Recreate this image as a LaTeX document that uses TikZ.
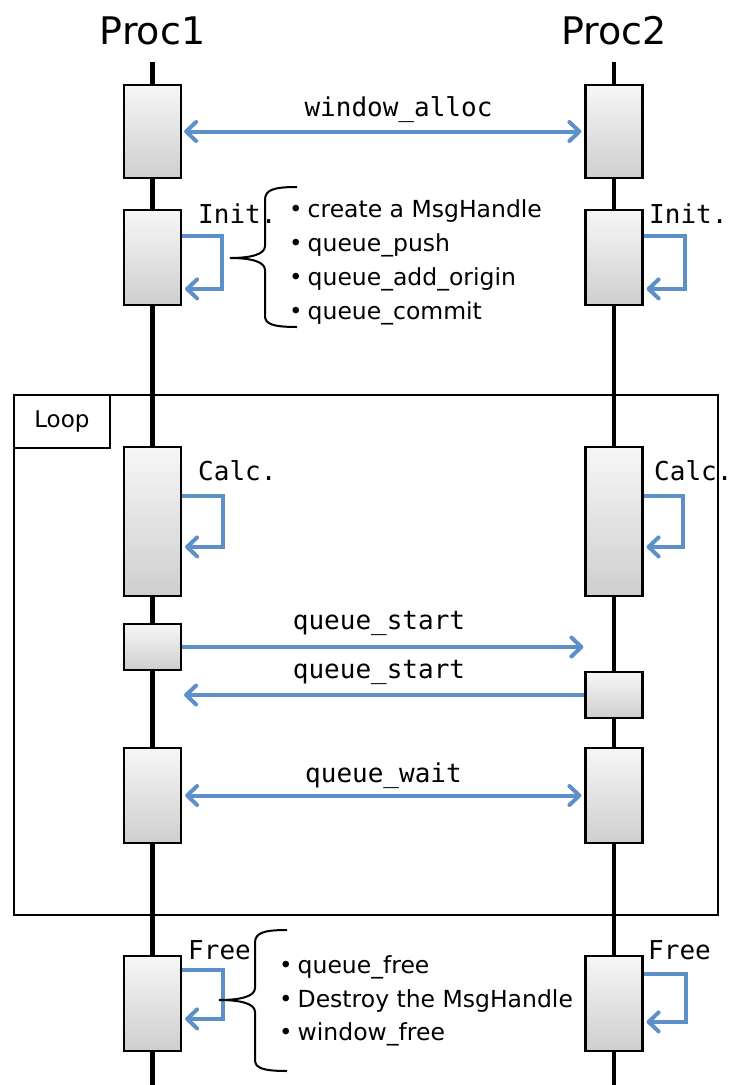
\documentclass[tikz,border=0pt]{standalone}
\usepackage{fontspec}
\setmainfont{DejaVu Sans}
\newfontfamily\monof{DejaVu Sans Mono}
\newfontfamily\cjk{Noto Sans CJK JP}
\usetikzlibrary{arrows.meta,calc}
\definecolor{msgblue}{RGB}{93,143,200}
\newcommand{\bul}{{\cjk\bfseries ・}}
\begin{document}
\begin{tikzpicture}[x=1pt,y=-1pt,
  >={Straight Barb[length=10pt,width=19pt,round]},
  lifeline/.style={line width=4.8pt},
  actbox/.style={draw, line width=2.2pt, top color=gray!7, bottom color=gray!38, minimum width=57pt, inner sep=0pt},
  msg/.style={draw=msgblue, line width=4pt, ->},
  dmsg/.style={draw=msgblue, line width=4pt, <->},
  title/.style={font=\fontsize{38}{40}\selectfont, inner sep=0pt, anchor=base},
  mlabel/.style={font=\monof\fontsize{26}{28}\selectfont, inner sep=0pt},
  item/.style={font=\fontsize{23.5}{26}\selectfont, inner sep=0pt, anchor=base west},
  brace/.style={line width=2pt},
  frame/.style={draw, line width=1.8pt, inner sep=0pt}
]
\useasboundingbox (0,0) rectangle (731,1085);
% titles
\node[title] (p1) at (152.5,44) {Proc1};
\node[title] (p2) at (614,44) {Proc2};
% loop frame
\node[frame, anchor=north west, minimum width=704pt, minimum height=520pt] (loop) at (13,394) {};
\node[frame, anchor=north west, minimum width=96pt, minimum height=53pt, font=\fontsize{23}{26}\selectfont] (looplbl) at (13,394) {Loop};
% lifelines
\coordinate (l1t) at (152.5,62); \coordinate (l1b) at (152.5,1085);
\coordinate (l2t) at (614,62);   \coordinate (l2b) at (614,1085);
\draw[lifeline] (l1t) -- (l1b);
\draw[lifeline] (l2t) -- (l2b);
% activation boxes
\node[actbox, minimum height=93pt] (a1) at (152.5,131.5) {};
\node[actbox, minimum height=95pt] (a2) at (152.5,257.5) {};
\node[actbox, minimum height=149pt] (a3) at (152.5,521.5) {};
\node[actbox, minimum height=46pt] (a4) at (152.5,647) {};
\node[actbox, minimum height=95pt] (a5) at (152.5,795.5) {};
\node[actbox, minimum height=95pt] (a6) at (152.5,1003.5) {};
\node[actbox, minimum height=93pt] (b1) at (614,131.5) {};
\node[actbox, minimum height=95pt] (b2) at (614,257.5) {};
\node[actbox, minimum height=149pt] (b3) at (614,521.5) {};
\node[actbox, minimum height=46pt] (b4) at (614,695) {};
\node[actbox, minimum height=95pt] (b5) at (614,795.5) {};
\node[actbox, minimum height=95pt] (b6) at (614,1003.5) {};
% messages
\draw[dmsg, shorten <=2pt, shorten >=3pt] (a1.east) -- (b1.west);
\node[mlabel, anchor=base] (m1) at (398.5,116) {window\_alloc};
\draw[msg, shorten >=1pt] (a4.east) -- (a4.east -| b4.west);
\node[mlabel, anchor=base] (m2) at (379,629) {queue\_start};
\draw[msg, shorten >=2pt] (b4.west) -- (b4.west -| a4.east);
\node[mlabel, anchor=base] (m3) at (379,678) {queue\_start};
\draw[dmsg, shorten <=3pt, shorten >=3pt] (a5.east) -- (b5.west);
\node[mlabel, anchor=base] (m4) at (383.5,782) {queue\_wait};
% self loops
\draw[msg] ($(a2.north east)+(0,27)$) -- ++(40,0) |- ($(a2.north east)+(3,80)$);
\draw[msg] ($(b2.north east)+(0,27)$) -- ++(41,0) |- ($(b2.north east)+(3,80)$);
\draw[msg] ($(a3.north east)+(0,50)$) -- ++(41,0) |- ($(a3.north east)+(3,101)$);
\draw[msg] ($(b3.north east)+(0,50)$) -- ++(39,0) |- ($(b3.north east)+(3,101)$);
\draw[msg] ($(a6.north east)+(0,15)$) -- ++(41,0) |- ($(a6.north east)+(3,64)$);
\draw[msg] ($(b6.north east)+(0,19)$) -- ++(42,0) |- ($(b6.north east)+(3,67)$);
% self-loop labels
\node[mlabel, anchor=base west] (ia) at (198,223) {Init.};
\node[mlabel, anchor=base west] (ib) at (649,223) {Init.};
\node[mlabel, anchor=base west] (ca) at (198,480) {Calc.};
\node[mlabel, anchor=base west] (cb) at (654,480) {Calc.};
\node[mlabel, anchor=base west] (fa) at (188,959) {Free};
\node[mlabel, anchor=base west] (fb) at (648,959) {Free};
% braces
\draw[brace] (297,187) .. controls (273,187) and (265,190) .. (265,200) -- (265,246)
  .. controls (265,254) and (252,258) .. (230,258)
  .. controls (252,258) and (265,262) .. (265,270) -- (265,316)
  .. controls (265,324) and (273,327) .. (297,327);
\draw[brace] (287,930) .. controls (263,930) and (255,933) .. (255,943) -- (255,988)
  .. controls (255,996) and (242,1000) .. (219,1000)
  .. controls (242,1000) and (255,1004) .. (255,1012) -- (255,1060)
  .. controls (255,1068) and (263,1071) .. (287,1071);
% lists
\node[item] (i1) at (284,217) {\bul create a MsgHandle};
\node[item] (i2) at (284,251) {\bul queue\_push};
\node[item] (i3) at (284,285) {\bul queue\_add\_origin};
\node[item] (i4) at (284,319) {\bul queue\_commit};
\node[item] (j1) at (274,973) {\bul queue\_free};
\node[item] (j2) at (274,1007) {\bul Destroy the MsgHandle};
\node[item] (j3) at (274,1040) {\bul window\_free};
\end{tikzpicture}
\end{document}
